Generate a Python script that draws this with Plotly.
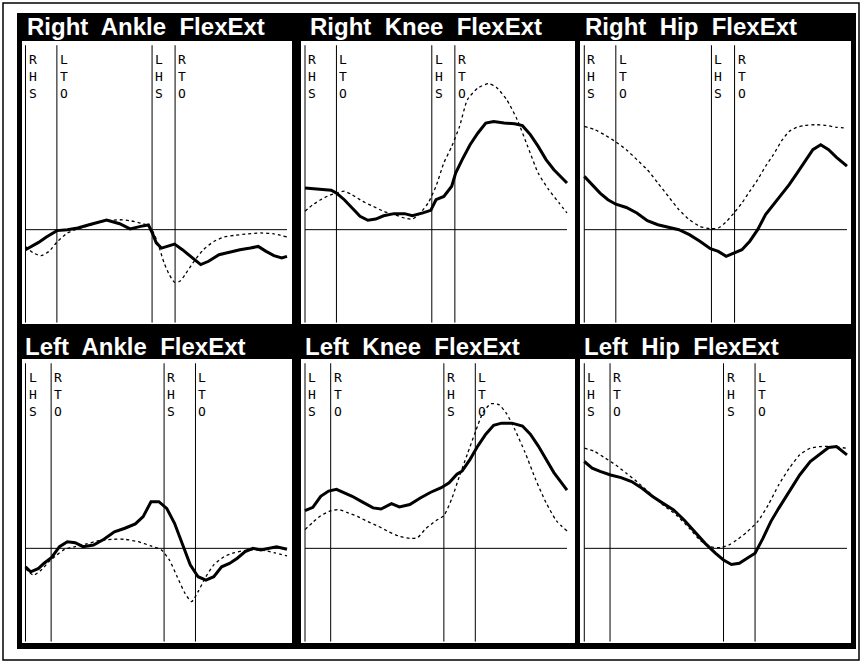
import plotly.graph_objects as go

W, H = 862, 663

# ---------------- data (% gait cycle, degrees) ----------------
titles = ["Right  Ankle  FlexExt", "Right  Knee  FlexExt", "Right  Hip  FlexExt",
          "Left  Ankle  FlexExt", "Left  Knee  FlexExt", "Left  Hip  FlexExt"]

right_events = ["RHS", "LTO", "LHS", "RTO"]
right_event_pct = [0, 12.0, 48.4, 57.2]
left_events = ["LHS", "RTO", "RHS", "LTO"]
left_event_pct = [0, 9.8, 53.0, 65.0]

# Right ankle
r_ankle_pat_x = [0, 2, 5, 8, 12, 16, 20, 24, 28, 31, 36, 40, 44, 47, 48.5, 50, 52, 55, 57, 60, 64, 67, 70, 74, 78, 82, 86, 89, 92, 95, 98, 100]
r_ankle_pat_y = [-8.5, -7.4, -5.4, -3.1, -0.4, 0.0, 0.7, 2.0, 3.1, 4.1, 2.5, 0.3, 1.4, 2.0, -1.4, -5.6, -7.8, -6.8, -6.1, -8.5, -12.0, -14.8, -13.4, -10.6, -9.6, -8.5, -7.8, -7.1, -9.2, -11.0, -12.0, -11.3]
r_ankle_norm_x = [0, 3, 6, 9, 12, 16, 20, 24, 28, 32, 36, 40, 44, 47, 49, 51, 53, 55, 57, 59, 61, 64, 68, 72, 76, 80, 85, 90, 95, 100]
r_ankle_norm_y = [-7.1, -9.9, -11.0, -9.2, -5.3, -1.4, 0.3, 1.7, 3.1, 3.9, 4.2, 3.8, 2.8, 1.7, -1.4, -7.1, -14.1, -19.1, -22.3, -21.9, -19.1, -14.1, -8.5, -5.0, -3.1, -2.4, -1.8, -1.4, -1.8, -3.1]

# Right knee
r_knee_pat_x = [0, 5, 10, 12, 15, 18, 21, 24, 27, 30, 34, 38, 41, 45, 48, 50, 53, 56, 57.5, 60, 63, 66, 69, 72, 76, 80, 83, 86, 89, 92, 95, 100]
r_knee_pat_y = [17.7, 17.2, 16.7, 15.5, 12.7, 9.2, 5.7, 4.0, 4.5, 5.9, 6.8, 6.8, 5.9, 7.1, 8.2, 12.7, 14.1, 18.4, 24.0, 29.7, 36.0, 41.0, 45.2, 45.9, 45.2, 44.9, 44.1, 40.3, 35.3, 29.7, 25.4, 19.8]
r_knee_norm_x = [0, 3, 6, 9, 12, 15, 18, 22, 26, 30, 34, 38, 41, 44, 47, 50, 53, 56, 59, 62, 66, 70, 73, 77, 81, 85, 89, 93, 97, 100]
r_knee_norm_y = [7.8, 10.6, 12.7, 14.4, 15.5, 16.3, 14.8, 12.0, 9.9, 7.8, 6.4, 4.9, 4.5, 7.1, 11.3, 18.4, 28.3, 35.3, 43.8, 55.1, 60.1, 61.9, 60.4, 55.1, 46.6, 35.3, 24.0, 17.0, 11.3, 7.1]

# Right hip
r_hip_pat_x = [0, 3, 6, 9, 12, 16, 20, 24, 28, 32, 36, 40, 44, 48, 51, 54, 57, 60, 63, 66, 69, 72, 75, 78, 81, 84, 87, 90, 93, 96, 100]
r_hip_pat_y = [22.6, 19.1, 15.5, 12.7, 10.8, 9.4, 7.1, 3.8, 2.1, 1.0, 0.0, -2.1, -4.9, -8.1, -9.2, -11.3, -9.9, -8.5, -4.9, 0.0, 6.4, 10.6, 14.8, 19.1, 24.0, 28.9, 33.9, 36.0, 33.9, 30.7, 26.9]
r_hip_norm_x = [0, 4, 8, 12, 16, 20, 24, 28, 32, 36, 40, 44, 48, 51, 54, 57, 60, 63, 66, 69, 72, 75, 78, 81, 84, 88, 92, 96, 100]
r_hip_norm_y = [43.8, 42.4, 40.0, 37.2, 33.9, 29.7, 25.4, 19.8, 14.1, 8.5, 4.2, 1.4, 0.4, 0.7, 3.3, 7.1, 11.3, 16.3, 21.2, 26.9, 31.8, 37.5, 41.7, 43.4, 44.2, 44.5, 44.2, 43.4, 43.1]

# Left ankle
l_ankle_pat_x = [0, 2, 5, 7, 10, 13, 16, 19, 22, 26, 30, 34, 38, 42, 45, 48, 51, 54, 57, 60, 63, 66, 69, 72, 75, 78, 81, 84, 87, 90, 93, 96, 100]
l_ankle_pat_y = [-7.8, -9.9, -8.5, -6.4, -3.8, 0.7, 2.8, 2.4, 0.7, 1.4, 3.8, 7.0, 8.5, 10.3, 13.4, 19.7, 19.7, 16.9, 10.6, 2.1, -7.0, -12.0, -13.4, -12.0, -7.8, -6.4, -4.2, -1.4, 0.0, -0.7, 0.0, 0.7, -0.4]
l_ankle_norm_x = [0, 3, 6, 9, 12, 15, 19, 23, 28, 33, 38, 43, 48, 52, 55, 58, 61, 63.5, 66, 69, 72, 76, 80, 85, 90, 95, 100]
l_ankle_norm_y = [-8.5, -11.3, -9.2, -5.6, -2.8, -0.4, 0.7, 1.8, 3.2, 3.8, 3.8, 2.8, 1.0, -0.7, -4.9, -12.0, -19.0, -22.5, -18.3, -12.0, -7.0, -3.5, -1.8, -0.7, -0.7, -1.8, -3.2]

# Left knee
l_knee_pat_x = [0, 3, 6, 9, 12, 15, 18, 22, 26, 29, 33, 36, 40, 44, 48, 52, 55, 58, 60, 63, 66, 69, 72, 75, 79, 83, 86, 89, 92, 95, 100]
l_knee_pat_y = [15.9, 17.3, 22.0, 24.2, 24.9, 23.4, 22.0, 19.5, 17.1, 16.6, 18.9, 17.5, 18.5, 21.3, 23.7, 25.6, 27.7, 31.3, 32.7, 37.6, 43.3, 48.2, 52.0, 52.9, 52.9, 51.7, 48.2, 43.3, 37.6, 32.0, 24.6]
l_knee_norm_x = [0, 3, 6, 10, 13, 16, 20, 24, 28, 32, 36, 40, 43, 46, 50, 53, 56, 59, 62, 65, 68, 71, 74, 77, 80, 84, 88, 92, 96, 100]
l_knee_norm_y = [7.9, 11.0, 13.8, 15.9, 16.4, 15.2, 13.5, 11.3, 9.3, 7.0, 5.1, 4.2, 4.6, 8.2, 11.7, 13.8, 20.9, 30.7, 39.9, 49.1, 57.5, 61.1, 60.7, 56.8, 50.4, 40.5, 29.2, 19.3, 11.6, 7.3]

# Left hip
l_hip_pat_x = [0, 3, 6, 10, 14, 18, 22, 26, 30, 34, 38, 42, 46, 50, 53, 56, 59, 62, 65, 68, 71, 74, 78, 82, 86, 90, 93, 96, 100]
l_hip_pat_y = [36.7, 33.9, 32.5, 31.0, 29.9, 28.2, 25.4, 21.9, 19.0, 16.2, 12.0, 7.0, 2.1, -2.1, -4.9, -6.8, -6.3, -4.2, -2.1, 4.2, 11.3, 16.9, 23.9, 31.0, 36.7, 40.2, 42.6, 43.0, 39.5]
l_hip_norm_x = [0, 4, 8, 12, 16, 20, 25, 30, 35, 40, 44, 48, 52, 55, 58, 62, 66, 70, 74, 78, 82, 86, 90, 94, 100]
l_hip_norm_y = [42.3, 40.9, 38.1, 35.2, 31.7, 28.2, 23.3, 18.3, 14.1, 8.5, 3.5, 0.7, 0.3, 1.4, 3.5, 7.0, 11.3, 18.3, 26.8, 33.8, 39.5, 42.3, 43.0, 43.0, 42.3]

panels = [
    (r_ankle_pat_x, r_ankle_pat_y, r_ankle_norm_x, r_ankle_norm_y),
    (r_knee_pat_x, r_knee_pat_y, r_knee_norm_x, r_knee_norm_y),
    (r_hip_pat_x, r_hip_pat_y, r_hip_norm_x, r_hip_norm_y),
    (l_ankle_pat_x, l_ankle_pat_y, l_ankle_norm_x, l_ankle_norm_y),
    (l_knee_pat_x, l_knee_pat_y, l_knee_norm_x, l_knee_norm_y),
    (l_hip_pat_x, l_hip_pat_y, l_hip_norm_x, l_hip_norm_y),
]

# ---------------- layout geometry (pixels) ----------------
Y_RANGE = [-40, 80]
X_RANGE = [-2, 102]
col_data_px = [(25.5, 287.0), (305.0, 567.0), (584.3, 847.0)]   # pixel of 0% and 100%
row_px = [(41, 324), (359, 643)]                                 # top / bottom of plot area
white_cols = [(22, 292), (301, 575), (580, 851)]
title_x_px = [[25, 308, 583], [23, 303, 582]]
title_y_px = [27, 346]


def px(x):
    return x / W


def py(y):
    return 1 - y / H


fig = go.Figure()
layout = dict(width=W, height=H, margin=dict(l=0, r=0, t=0, b=0),
              paper_bgcolor="white", plot_bgcolor="rgba(0,0,0,0)",
              showlegend=False)
shapes = []
annotations = []

# frame
shapes.append(dict(type="rect", xref="paper", yref="paper", x0=px(3), x1=px(859), y0=py(660), y1=py(3),
                   line=dict(color="black", width=1.5), layer="below"))
shapes.append(dict(type="rect", xref="paper", yref="paper", x0=px(17), x1=px(856), y0=py(649), y1=py(13),
                   fillcolor="black", line=dict(width=0), layer="below"))
for (ry0, ry1) in row_px:
    for (cx0, cx1) in white_cols:
        shapes.append(dict(type="rect", xref="paper", yref="paper", x0=px(cx0), x1=px(cx1),
                           y0=py(ry1), y1=py(ry0), fillcolor="white", line=dict(width=0), layer="below"))

for i, (pat_x, pat_y, nor_x, nor_y) in enumerate(panels):
    r, c = divmod(i, 3)
    n = i + 1
    xa = "x" if n == 1 else f"x{n}"
    ya = "y" if n == 1 else f"y{n}"
    d0, d100 = col_data_px[c]
    k = (d100 - d0) / 100.0
    dom_x = [px(d0 + X_RANGE[0] * k), px(d0 + X_RANGE[1] * k)]
    ry0, ry1 = row_px[r]
    dom_y = [py(ry1), py(ry0)]
    axkey = "xaxis" if n == 1 else f"xaxis{n}"
    aykey = "yaxis" if n == 1 else f"yaxis{n}"
    layout[axkey] = dict(domain=dom_x, range=X_RANGE, visible=False, anchor=ya, fixedrange=True)
    layout[aykey] = dict(domain=dom_y, range=Y_RANGE, visible=False, anchor=xa, fixedrange=True)

    # normal (dotted) and patient (thick) curves
    fig.add_trace(go.Scatter(x=nor_x, y=nor_y, mode="lines", xaxis=xa, yaxis=ya,
                             line=dict(color="black", width=1.3, dash="dot", shape="spline", smoothing=0.6),
                             hoverinfo="skip"))
    fig.add_trace(go.Scatter(x=pat_x, y=pat_y, mode="lines", xaxis=xa, yaxis=ya,
                             line=dict(color="black", width=3), hoverinfo="skip"))

    # zero line
    shapes.append(dict(type="line", xref=xa, yref=ya, x0=0, x1=100, y0=0, y1=0,
                       line=dict(color="black", width=1), layer="above"))

    ev_names = right_events if r == 0 else left_events
    ev_pct = right_event_pct if r == 0 else left_event_pct
    for name, p in zip(ev_names, ev_pct):
        shapes.append(dict(type="line", xref=xa, yref=f"{ya} domain", x0=p, x1=p, y0=0.005, y1=0.985,
                           line=dict(color="black", width=1), layer="above"))
        annotations.append(dict(text="<br>".join(list(name)), xref=xa, yref=f"{ya} domain",
                                x=p, y=1, xanchor="left", yanchor="top", xshift=1, yshift=-9,
                                showarrow=False, align="left",
                                font=dict(family="DejaVu Sans Mono", size=13, color="black")))

    annotations.append(dict(text=titles[i], xref="paper", yref="paper",
                            x=px(title_x_px[r][c]), y=py(title_y_px[r]),
                            xanchor="left", yanchor="middle", showarrow=False,
                            font=dict(family="Liberation Sans", size=24, color="white", weight="bold")))

layout["shapes"] = shapes
layout["annotations"] = annotations
fig.update_layout(**layout)
# remove the browser's default 8px body margin so the figure sits at the window origin
fig.write_html("out.html", config={"displayModeBar": False},
               post_script="document.body.style.margin='0px';document.body.style.overflow='hidden';")
